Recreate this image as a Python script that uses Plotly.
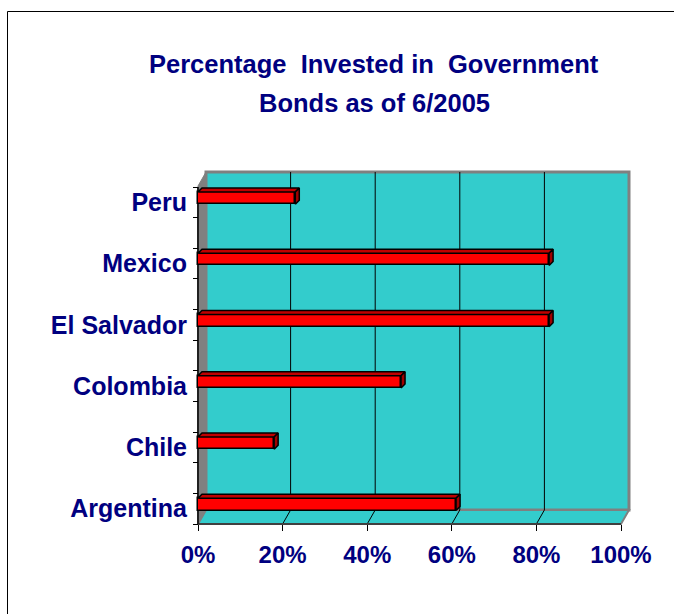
import plotly.graph_objects as go

# ---- data ----
countries = ["Argentina", "Chile", "Colombia", "El Salvador", "Mexico", "Peru"]
pct_gov_bonds = [61, 18, 48, 83, 83, 23]
x_ticks = [0, 20, 40, 60, 80, 100]
x_tick_labels = ["0%", "20%", "40%", "60%", "80%", "100%"]
title_lines = ["Percentage  Invested in  Government", "Bonds as of 6/2005"]

# ---- geometry helpers (pixel layout of the 3-D frame) ----
W, H = 674, 614
PL, PR, PT, PB = 190, 640, 160, 535        # plot area in pixels
PX0, SX = 198, 4.23                        # x=0 pixel, pixels per percent
PY0, SY = 508.7, 61.27                     # category 0 pixel, pixels per category


def xv(px):
    return (px - PX0) / SX


def yv(py):
    return (PY0 - py) / SY


def pxp(px):
    return (px - PL) / (PR - PL)


def pyp(py):
    return (PB - py) / (PB - PT)


DX, DY = 8 / SX, 14 / SY       # wall depth
BDX, BDY = 4 / SX, 4 / SY      # bar depth
BAR_OFF = 4.3 / SY
BAR_H = 0.2

TEAL = "#33CCCC"
NAVY = "#000080"
FONT = "Liberation Sans, Arial, sans-serif"

ypos = list(range(len(countries)))
ybar = [y + BAR_OFF for y in ypos]

fig = go.Figure()

# top and right faces of bars
for v, yc in zip(pct_gov_bonds, ybar):
    top = yc + BAR_H / 2
    bot = yc - BAR_H / 2
    fig.add_trace(go.Scatter(
        x=[0, v, v + BDX, BDX, 0], y=[top, top, top + BDY, top + BDY, top],
        mode="lines", fill="toself", fillcolor="#C00000",
        line=dict(color="black", width=1.5), hoverinfo="skip", showlegend=False))
    fig.add_trace(go.Scatter(
        x=[v, v + BDX, v + BDX, v, v], y=[bot, bot + BDY, top + BDY, top, bot],
        mode="lines", fill="toself", fillcolor="#A00000",
        line=dict(color="black", width=1.5), hoverinfo="skip", showlegend=False))

# front faces
fig.add_trace(go.Bar(
    x=pct_gov_bonds, y=ybar, orientation="h", width=BAR_H, base=0,
    marker=dict(color="#FF0000", line=dict(color="black", width=1.5)),
    showlegend=False, hovertemplate="%{x}%<extra></extra>"))

shapes = []
# back wall
shapes.append(dict(type="rect", xref="x", yref="y", layer="below",
                   x0=DX, x1=100 + DX, y0=yv(510), y1=yv(172),
                   fillcolor=TEAL, line=dict(color="#808080", width=3)))
# floor
shapes.append(dict(type="path", xref="x", yref="y", layer="below",
                   path=f"M 0 {yv(524)} L 100 {yv(524)} L {100 + DX} {yv(510)} L {DX} {yv(510)} Z",
                   fillcolor=TEAL, line=dict(color="#808080", width=2)))
# left wall
shapes.append(dict(type="path", xref="x", yref="y", layer="below",
                   path=f"M 0 {yv(524)} L 0 {yv(186)} L {DX} {yv(172)} L {DX} {yv(510)} Z",
                   fillcolor="#808080", line=dict(color="#808080", width=1)))
# gridlines: back wall and floor
for t in x_ticks[1:-1]:
    shapes.append(dict(type="line", xref="x", yref="y", layer="below",
                       x0=t + DX, x1=t + DX, y0=yv(510), y1=yv(172),
                       line=dict(color="black", width=1)))
    shapes.append(dict(type="line", xref="x", yref="y", layer="below",
                       x0=t, x1=t + DX, y0=yv(524), y1=yv(510),
                       line=dict(color="black", width=1)))
# front floor edge and y axis line
shapes.append(dict(type="line", xref="x", yref="y", layer="below",
                   x0=0, x1=100, y0=yv(524), y1=yv(524),
                   line=dict(color="#404040", width=2)))
shapes.append(dict(type="line", xref="x", yref="y", layer="below",
                   x0=0, x1=0, y0=yv(524), y1=yv(187),
                   line=dict(color="#202020", width=2)))
# outer chart border
shapes.append(dict(type="rect", xref="paper", yref="paper",
                   x0=pxp(7.5), x1=pxp(690), y0=pyp(630), y1=pyp(11.5),
                   line=dict(color="black", width=1), fillcolor="rgba(0,0,0,0)"))

annotations = [
    dict(text=title_lines[0], x=pxp(374), y=pyp(64), xref="paper", yref="paper",
         showarrow=False, xanchor="center", yanchor="middle",
         font=dict(family=FONT, size=25.5, color=NAVY, weight="bold")),
    dict(text=title_lines[1], x=pxp(374), y=pyp(102.5), xref="paper", yref="paper",
         showarrow=False, xanchor="center", yanchor="middle",
         font=dict(family=FONT, size=25.5, color=NAVY, weight="bold")),
]

fig.update_layout(
    width=W, height=H,
    margin=dict(l=PL, r=W - PR, t=PT, b=H - PB, pad=0),
    paper_bgcolor="white", plot_bgcolor="white",
    shapes=shapes, annotations=annotations,
    bargap=0,
    xaxis=dict(range=[xv(PL), xv(PR)], anchor="free", position=pyp(524),
               tickvals=x_ticks, ticktext=x_tick_labels,
               ticks="outside", ticklen=6, tickcolor="black", tickwidth=1,
               showgrid=False, zeroline=False, showline=False,
               ticklabelstandoff=3,
               tickfont=dict(family=FONT, size=24, color=NAVY, weight="bold")),
    yaxis=dict(range=[yv(PB), yv(PT)], anchor="free", position=pxp(198),
               tickvals=ypos, ticktext=countries, ticks="",
               minor=dict(tickvals=[y + d for y in ypos for d in (-0.25, 0.25)],
                          ticks="outside", ticklen=5, tickcolor="black", tickwidth=1,
                          showgrid=False),
               showgrid=False, zeroline=False, showline=False,
               ticklabelstandoff=11,
               tickfont=dict(family=FONT, size=25, color=NAVY, weight="bold")),
)

fig.write_html("out.html", config={"displayModeBar": False},
               post_script="document.body.style.margin='0';")
